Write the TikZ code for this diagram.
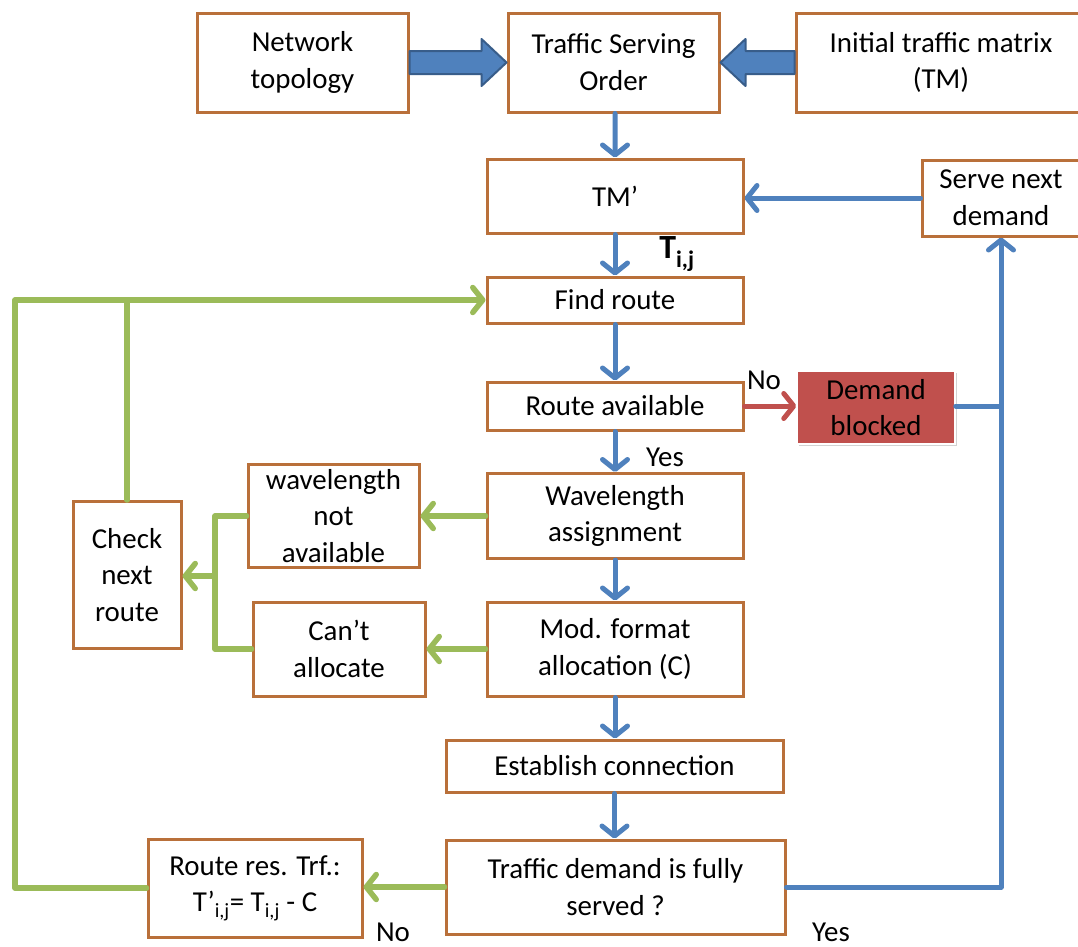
\documentclass[tikz,border=0pt]{standalone}
\usepackage{fontspec}
\setmainfont{Carlito}
\usetikzlibrary{arrows.meta,calc,shadows}
\definecolor{boxc}{RGB}{185,112,58}
\definecolor{bl}{RGB}{79,129,189}
\definecolor{bld}{RGB}{56,93,138}
\definecolor{gr}{RGB}{155,187,89}
\definecolor{rd}{RGB}{192,80,77}
\begin{document}
\begin{tikzpicture}[x=1bp,y=-1bp,
  box/.style={draw=boxc, line width=3bp, fill=white, align=center, inner sep=0pt,
    font=\fontsize{29}{37}\selectfont},
  bconn/.style={draw=bl, line width=5bp, line cap=round, line join=round},
  gconn/.style={draw=gr, line width=5.5bp, line cap=round, line join=round},
  rconn/.style={draw=rd, line width=5bp, line cap=round, line join=round},
  tip/.style={-{Straight Barb[length=10bp,width=25bp,line cap=round,line join=round]}},
  lbl/.style={font=\fontsize{29}{32}\selectfont, inner sep=0pt},
  barrow/.style={fill=bl, draw=bld, line width=2bp, line join=round}
]
\clip (0,0) rectangle (1078,947);
\useasboundingbox (0,0) rectangle (1078,947);
\fill[white] (0,0) rectangle (1078,947);

% boxes
\node[box, minimum width=211bp, minimum height=99bp] (net) at (302.5,62.5) {Network\\topology};
\node[box, minimum width=211bp, minimum height=99bp] (tso) at (613.5,62.5) {Traffic Serving\\Order};
\node[box, minimum width=290bp, minimum height=99bp] (itm) at (941,62.5) {Initial traffic matrix\\(TM)};
\node[box, minimum width=256bp, minimum height=74bp] (tmp) at (615,196) {TM’};
\node[box, minimum width=158bp, minimum height=76bp] (snd) at (1001,198) {Serve next\\demand};
\node[box, minimum width=256bp, minimum height=46bp] (find) at (615,300) {Find route};
\node[box, minimum width=256bp, minimum height=48bp] (ravail) at (615,406) {Route available};
\node[box, draw=white, line width=1.5bp, fill=rd, minimum width=158bp, minimum height=73bp,
  drop shadow={shadow xshift=2bp, shadow yshift=-2bp, opacity=0.35}] (dblk) at (876,407.5) {Demand\\blocked};
\node[box, minimum width=256bp, minimum height=85bp] (wa) at (615,516) {Wavelength\\assignment};
\node[box, minimum width=171bp, minimum height=103bp] (wna) at (333.5,516) {wavelength\\not\\available};
\node[box, minimum width=108bp, minimum height=147bp] (cnr) at (127,575) {Check\\next\\route};
\node[box, minimum width=172bp, minimum height=94bp] (cant) at (339,649) {Can’t\\allocate};
\node[box, minimum width=256bp, minimum height=94bp] (mod) at (615,649) {Mod. format\\allocation (C)};
\node[box, minimum width=337bp, minimum height=52bp] (est) at (614.5,766) {Establish connection};
\node[box, minimum width=339bp, minimum height=94bp] (tdf) at (615.5,887) {Traffic demand is fully\\served ?};
\node[box, minimum width=214bp, minimum height=98bp] (rrt) at (255,888) {Route res. Trf.:\\T’\textsubscript{i,j}= T\textsubscript{i,j} - C};

% block arrows
\draw[barrow] ($(net.east)+(0,-11.5)$) -- ($(tso.west)+(-25,-11.5)$) -- ($(tso.west)+(-25,-23.5)$) -- (tso.west)
  -- ($(tso.west)+(-25,23.5)$) -- ($(tso.west)+(-25,11.5)$) -- ($(net.east)+(0,11.5)$) -- cycle;
\draw[barrow] ($(itm.west)+(0,-11.5)$) -- ($(tso.east)+(25,-11.5)$) -- ($(tso.east)+(25,-23.5)$) -- (tso.east)
  -- ($(tso.east)+(25,23.5)$) -- ($(tso.east)+(25,11.5)$) -- ($(itm.west)+(0,11.5)$) -- cycle;

% main vertical flow
\draw[bconn,tip] ($(tso.south)+(1.5,0)$) -- (tmp.north);
\draw[bconn,tip] (tmp.south) -- (find.north);
\draw[bconn,tip] (find.south) -- (ravail.north);
\draw[bconn,tip] (ravail.south) -- (wa.north);
\draw[bconn,tip] (wa.south) -- (mod.north);
\draw[bconn,tip] (mod.south) -- (mod.south |- est.north);
\draw[bconn,tip] (est.south) -- (est.south |- tdf.north);

% blocked
\draw[rconn,tip] (ravail.east) -- (ravail.east -| dblk.west);
\draw[bconn] (ravail.east -| dblk.east) -- (ravail.east -| snd.south);
\draw[bconn,tip] (tdf.east) -| (snd.south);
\draw[bconn,tip] (snd.west) -- (snd.west -| tmp.east);

% green feedback
\coordinate (j) at (215,576);
\coordinate (L) at (15,300);
\draw[gconn,tip] (wa.west) -- (wna.east);
\draw[gconn,tip] (mod.west) -- (cant.east);
\draw[gconn] (wna.west) -| (j) |- (cant.west);
\draw[gconn,tip] (j) -- (j -| cnr.east);
\draw[gconn] (rrt.west) -| (L) -- (cnr.north |- L);
\draw[gconn,tip] (cnr.north) |- (find.west);
\draw[gconn,tip] (tdf.west) -- (tdf.west -| rrt.east);

% labels
\node[lbl, font=\fontsize{34}{36}\selectfont\bfseries] (tij) at (677,254) {T\textsubscript{i,j}};
\node[lbl] (no1) at (764,380) {No};
\node[lbl] (yes1) at (665,457) {Yes};
\node[lbl] (no2) at (393,932) {No};
\node[lbl] (yes2) at (831,932) {Yes};
\end{tikzpicture}
\end{document}
